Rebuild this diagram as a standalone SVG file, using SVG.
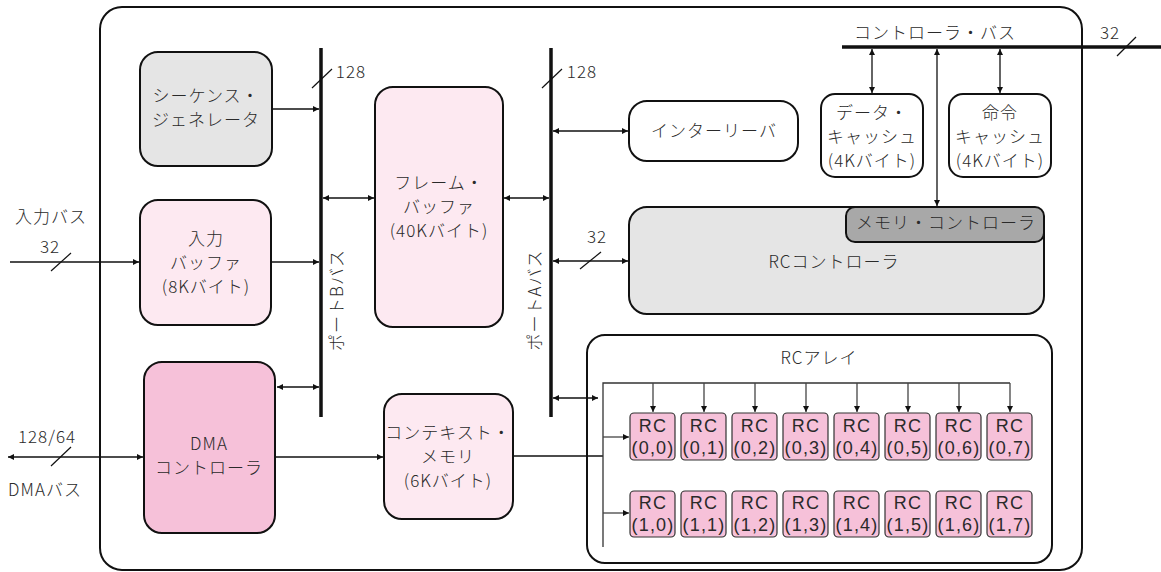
<svg xmlns="http://www.w3.org/2000/svg" width="1161" height="572" viewBox="0 0 1161 572">
<defs>
<marker id="ah" viewBox="0 0 10 10" refX="10" refY="5" markerWidth="8" markerHeight="6" markerUnits="userSpaceOnUse" orient="auto-start-reverse">
<path d="M0,0 L10,5 L0,10 z" fill="#111"/>
</marker>
<style>
text{font-family:"Noto Sans CJK JP","Noto Sans",sans-serif;font-size:17px;font-weight:300;letter-spacing:1px;fill:#2a2a2a;text-anchor:middle}
.box{stroke:#111;stroke-width:2}
.lp{fill:#fde9f1}
.mp{fill:#f6c1d9}
.g{fill:#e5e5e5}
.dg{fill:#a8a8a8}
.w{fill:#fff}
.cell{fill:#f6c1d9;stroke:#333;stroke-width:1.2}
.ct{font-family:"Liberation Sans","Noto Sans",sans-serif;font-size:18px;font-weight:normal;letter-spacing:1.2px}
.ln{stroke:#111;stroke-width:1.3;fill:none}
.a1{stroke:#111;stroke-width:1.3;fill:none;marker-end:url(#ah)}
.a2{stroke:#111;stroke-width:1.3;fill:none;marker-end:url(#ah);marker-start:url(#ah)}
.bus{stroke:#111;stroke-width:3.5;fill:none}
.sl{stroke:#111;stroke-width:1.2}
</style>
</defs>
<rect id="frame" x="100" y="7" width="982" height="563" rx="22" fill="none" stroke="#111" stroke-width="2"/>

<g id="connectors">
<line class="bus" x1="321" y1="48" x2="321" y2="417"/>
<line class="bus" x1="551" y1="48" x2="551" y2="417"/>
<line class="bus" x1="842" y1="47" x2="1161" y2="47"/>
<line class="a1" x1="272" y1="109" x2="319" y2="109"/>
<line class="a1" x1="10" y1="262" x2="139" y2="262"/>
<line class="a1" x1="271" y1="262" x2="319" y2="262"/>
<line class="a2" x1="323" y1="198" x2="374" y2="198"/>
<line class="a2" x1="504" y1="198" x2="549" y2="198"/>
<line class="a2" x1="553" y1="131" x2="628" y2="131"/>
<line class="a2" x1="553" y1="261" x2="628" y2="261"/>
<line class="a2" x1="277" y1="387" x2="319" y2="387"/>
<line class="a2" x1="8" y1="457" x2="143" y2="457"/>
<line class="a1" x1="275" y1="457" x2="383" y2="457"/>
<line class="a2" x1="553" y1="398" x2="598" y2="398"/>
<line class="ln" x1="513" y1="456" x2="603" y2="456"/>
<line class="a2" x1="872" y1="49" x2="872" y2="93"/>
<line class="a2" x1="1000" y1="49" x2="1000" y2="93"/>
<line class="a2" x1="937" y1="49" x2="937" y2="206"/>
<line class="sl" x1="312" y1="88" x2="332" y2="69"/>
<line class="sl" x1="542" y1="88" x2="562" y2="69"/>
<line class="sl" x1="51" y1="271" x2="71" y2="253"/>
<line class="sl" x1="51" y1="466" x2="71" y2="447"/>
<line class="sl" x1="580" y1="269" x2="601" y2="252"/>
<line class="sl" x1="1117" y1="56" x2="1136" y2="37"/>
</g>

<text x="351" y="78">128</text>
<text x="582" y="78">128</text>
<text x="935" y="39">コントローラ・バス</text>
<text x="1110" y="39">32</text>
<text x="51" y="223">入力バス</text>
<text x="50" y="253">32</text>
<text x="47" y="443">128/64</text>
<text x="45" y="496">DMAバス</text>
<text x="597" y="243">32</text>
<text transform="translate(337,300) rotate(-90)" x="0" y="6">ポートBバス</text>
<text transform="translate(535,300) rotate(-90)" x="0" y="6">ポートAバス</text>

<g id="seqgen">
<rect class="box g" x="140" y="52" width="132" height="114" rx="18"/>
<text x="206" y="101.5">シーケンス・</text>
<text x="206" y="125.5">ジェネレータ</text>
</g>
<g id="inbuf">
<rect class="box lp" x="140" y="200" width="131" height="125" rx="18"/>
<text x="206" y="245">入力</text>
<text x="206" y="269">バッファ</text>
<text x="206" y="293">(8Kバイト)</text>
</g>
<g id="dma">
<rect class="box mp" x="144" y="362" width="131" height="171" rx="18"/>
<text x="209" y="449.5">DMA</text>
<text x="209" y="473.5">コントローラ</text>
</g>
<g id="framebuf">
<rect class="box lp" x="375" y="87" width="128" height="240" rx="18"/>
<text x="439" y="189">フレーム・</text>
<text x="439" y="213">バッファ</text>
<text x="439" y="237">(40Kバイト)</text>
</g>
<g id="ctxmem">
<rect class="box lp" x="384" y="394" width="129" height="125" rx="18"/>
<text x="448" y="439">コンテキスト・</text>
<text x="448" y="463">メモリ</text>
<text x="448" y="487">(6Kバイト)</text>
</g>
<g id="interleaver">
<rect class="box w" x="629" y="101" width="169" height="60" rx="18"/>
<text x="714" y="137">インターリーバ</text>
</g>
<g id="dcache">
<rect class="box w" x="821" y="94" width="102" height="83" rx="14"/>
<text x="872" y="119">データ・</text>
<text x="872" y="143">キャッシュ</text>
<text x="872" y="167">(4Kバイト)</text>
</g>
<g id="icache">
<rect class="box w" x="949" y="94" width="102" height="83" rx="14"/>
<text x="1000" y="119">命令</text>
<text x="1000" y="143">キャッシュ</text>
<text x="1000" y="167">(4Kバイト)</text>
</g>
<g id="rcctrl">
<rect class="box g" x="629" y="207" width="415" height="107" rx="18"/>
<text x="834" y="268">RCコントローラ</text>
</g>
<g id="memctrl">
<rect class="box dg" x="846" y="207" width="198" height="35" rx="9"/>
<text x="946" y="229">メモリ・コントローラ</text>
</g>

<g id="rcarray">
<rect class="box" fill="none" x="587" y="335" width="465" height="228" rx="18"/>
<text x="819" y="364">RCアレイ</text>
</g>

<g id="rcarray-connectors" fill="none">
<path d="M603,547 V383 H1010" stroke="#333" stroke-width="1.3"/>
<g stroke="#444" stroke-width="1.3" marker-end="url(#ah)">
<line x1="653" y1="383" x2="653" y2="412"/>
<line x1="704" y1="383" x2="704" y2="412"/>
<line x1="755" y1="383" x2="755" y2="412"/>
<line x1="806" y1="383" x2="806" y2="412"/>
<line x1="857" y1="383" x2="857" y2="412"/>
<line x1="908" y1="383" x2="908" y2="412"/>
<line x1="959" y1="383" x2="959" y2="412"/>
<line x1="1010" y1="383" x2="1010" y2="412"/>
<line x1="603" y1="437" x2="629" y2="437"/>
<line x1="603" y1="513" x2="629" y2="513"/>
</g>
</g>

<g id="rc00"><rect class="cell" x="630" y="413" width="45" height="47" rx="4"/><text class="ct" x="653" y="432">RC</text><text class="ct" x="653" y="454">(0,0)</text></g>
<g id="rc01"><rect class="cell" x="681" y="413" width="45" height="47" rx="4"/><text class="ct" x="704" y="432">RC</text><text class="ct" x="704" y="454">(0,1)</text></g>
<g id="rc02"><rect class="cell" x="732" y="413" width="45" height="47" rx="4"/><text class="ct" x="755" y="432">RC</text><text class="ct" x="755" y="454">(0,2)</text></g>
<g id="rc03"><rect class="cell" x="783" y="413" width="45" height="47" rx="4"/><text class="ct" x="806" y="432">RC</text><text class="ct" x="806" y="454">(0,3)</text></g>
<g id="rc04"><rect class="cell" x="834" y="413" width="45" height="47" rx="4"/><text class="ct" x="857" y="432">RC</text><text class="ct" x="857" y="454">(0,4)</text></g>
<g id="rc05"><rect class="cell" x="885" y="413" width="45" height="47" rx="4"/><text class="ct" x="908" y="432">RC</text><text class="ct" x="908" y="454">(0,5)</text></g>
<g id="rc06"><rect class="cell" x="936" y="413" width="45" height="47" rx="4"/><text class="ct" x="959" y="432">RC</text><text class="ct" x="959" y="454">(0,6)</text></g>
<g id="rc07"><rect class="cell" x="987" y="413" width="45" height="47" rx="4"/><text class="ct" x="1010" y="432">RC</text><text class="ct" x="1010" y="454">(0,7)</text></g>
<g id="rc10"><rect class="cell" x="630" y="491" width="45" height="46" rx="4"/><text class="ct" x="653" y="509">RC</text><text class="ct" x="653" y="531">(1,0)</text></g>
<g id="rc11"><rect class="cell" x="681" y="491" width="45" height="46" rx="4"/><text class="ct" x="704" y="509">RC</text><text class="ct" x="704" y="531">(1,1)</text></g>
<g id="rc12"><rect class="cell" x="732" y="491" width="45" height="46" rx="4"/><text class="ct" x="755" y="509">RC</text><text class="ct" x="755" y="531">(1,2)</text></g>
<g id="rc13"><rect class="cell" x="783" y="491" width="45" height="46" rx="4"/><text class="ct" x="806" y="509">RC</text><text class="ct" x="806" y="531">(1,3)</text></g>
<g id="rc14"><rect class="cell" x="834" y="491" width="45" height="46" rx="4"/><text class="ct" x="857" y="509">RC</text><text class="ct" x="857" y="531">(1,4)</text></g>
<g id="rc15"><rect class="cell" x="885" y="491" width="45" height="46" rx="4"/><text class="ct" x="908" y="509">RC</text><text class="ct" x="908" y="531">(1,5)</text></g>
<g id="rc16"><rect class="cell" x="936" y="491" width="45" height="46" rx="4"/><text class="ct" x="959" y="509">RC</text><text class="ct" x="959" y="531">(1,6)</text></g>
<g id="rc17"><rect class="cell" x="987" y="491" width="45" height="46" rx="4"/><text class="ct" x="1010" y="509">RC</text><text class="ct" x="1010" y="531">(1,7)</text></g>
</svg>
